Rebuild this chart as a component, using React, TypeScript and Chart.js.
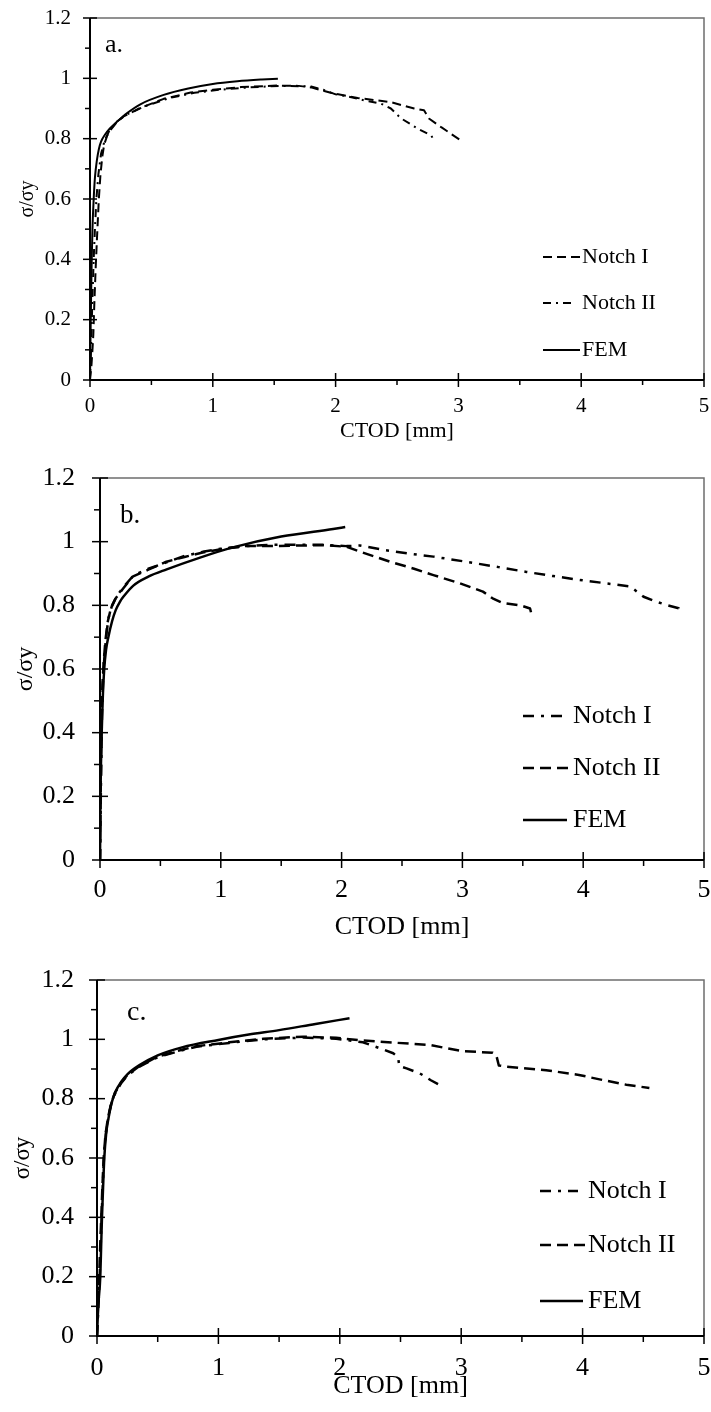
import React, { useEffect, useRef } from 'react';
import { Chart, registerables } from 'chart.js';

Chart.register(...registerables);

const FONT = "'Liberation Serif', 'Times New Roman', Times, serif";

// ---- tick values ----
const X_MAJOR = [0, 1, 2, 3, 4, 5];
const X_MINOR = [0.5, 1.5, 2.5, 3.5, 4.5];
const Y_MAJOR = [0, 0.2, 0.4, 0.6, 0.8, 1.0, 1.2];
const Y_MINOR = [0.1, 0.3, 0.5, 0.7, 0.9, 1.1];

const X_TITLE = 'CTOD [mm]';
const Y_TITLE = 'σ/σy';

// ---- panel a ----
const A_NOTCH_I = [
  [0, 0], [0.012, 0.05], [0.02, 0.1], [0.027, 0.15], [0.035, 0.25], [0.046, 0.37], [0.058, 0.48],
  [0.072, 0.6], [0.085, 0.68], [0.1, 0.74], [0.115, 0.78], [0.14, 0.81], [0.17, 0.83], [0.22, 0.855],
  [0.27, 0.873], [0.4, 0.9], [0.6, 0.932], [0.82, 0.953], [1.0, 0.962], [1.23, 0.971], [1.52, 0.976],
  [1.7, 0.975], [1.8, 0.97], [1.96, 0.952], [2.18, 0.935], [2.45, 0.921], [2.64, 0.9], [2.72, 0.894],
  [2.76, 0.867], [2.86, 0.838], [3.02, 0.794],
];
const A_NOTCH_II = [
  [0, 0.01], [0.005, 0.05], [0.01, 0.12], [0.015, 0.2], [0.022, 0.3], [0.03, 0.4], [0.04, 0.5],
  [0.052, 0.6], [0.068, 0.68], [0.09, 0.75], [0.12, 0.795], [0.16, 0.828], [0.22, 0.857], [0.3, 0.88],
  [0.45, 0.908], [0.65, 0.935], [0.85, 0.952], [1.05, 0.962], [1.3, 0.97], [1.55, 0.975], [1.8, 0.973],
  [1.9, 0.962], [2.0, 0.947], [2.1, 0.94], [2.23, 0.927], [2.37, 0.916], [2.45, 0.9], [2.53, 0.868],
  [2.67, 0.833], [2.78, 0.81], [2.8, 0.794],
];
const A_FEM = [
  [0, 0], [0.003, 0.1], [0.006, 0.2], [0.01, 0.3], [0.014, 0.4], [0.02, 0.5], [0.03, 0.6], [0.04, 0.67],
  [0.056, 0.728], [0.072, 0.765], [0.09, 0.79], [0.12, 0.812], [0.16, 0.833], [0.204, 0.85], [0.3, 0.884],
  [0.41, 0.914], [0.6, 0.945], [0.8, 0.966], [1.0, 0.981], [1.2, 0.99], [1.4, 0.996], [1.53, 0.999],
];

// ---- panel b ----
const B_NOTCH_I = [
  [0, 0], [0.005, 0.15], [0.01, 0.3], [0.016, 0.45], [0.025, 0.56], [0.035, 0.63], [0.05, 0.7],
  [0.07, 0.76], [0.1, 0.8], [0.14, 0.83], [0.2, 0.86], [0.28, 0.895], [0.4, 0.915], [0.55, 0.935],
  [0.7, 0.955], [0.85, 0.968], [1.0, 0.978], [1.2, 0.986], [1.4, 0.99], [1.66, 0.99], [1.85, 0.99],
  [2.04, 0.986], [2.15, 0.988], [2.35, 0.974], [2.55, 0.963], [2.76, 0.953], [3.03, 0.937], [3.3, 0.92],
  [3.53, 0.905], [3.75, 0.892], [3.97, 0.88], [4.19, 0.869], [4.39, 0.859], [4.5, 0.827], [4.6, 0.812],
  [4.69, 0.801], [4.79, 0.791], [4.8, 0.775],
];
const B_NOTCH_II = [
  [0, 0], [0.004, 0.15], [0.008, 0.3], [0.013, 0.45], [0.02, 0.55], [0.03, 0.62], [0.045, 0.69],
  [0.065, 0.75], [0.09, 0.79], [0.13, 0.822], [0.19, 0.852], [0.27, 0.89], [0.4, 0.912], [0.55, 0.937],
  [0.7, 0.952], [0.85, 0.966], [1.0, 0.976], [1.2, 0.986], [1.4, 0.986], [1.66, 0.988], [1.85, 0.989],
  [2.04, 0.984], [2.15, 0.969], [2.4, 0.937], [2.6, 0.915], [2.76, 0.895], [2.98, 0.869], [3.17, 0.843],
  [3.25, 0.822], [3.33, 0.808], [3.48, 0.8], [3.56, 0.79], [3.57, 0.775],
];
const B_FEM = [
  [0, 0], [0.002, 0.1], [0.004, 0.2], [0.008, 0.3], [0.014, 0.4], [0.022, 0.5], [0.035, 0.6],
  [0.05, 0.66], [0.069, 0.7], [0.1, 0.75], [0.13, 0.785], [0.166, 0.812], [0.2, 0.83], [0.276, 0.862],
  [0.4, 0.89], [0.552, 0.913], [0.828, 0.95], [1.1, 0.982], [1.5, 1.016], [1.93, 1.04], [2.03, 1.046],
];

// ---- panel c ----
const C_NOTCH_I = [
  [0, 0], [0.012, 0.1], [0.022, 0.2], [0.03, 0.3], [0.038, 0.4], [0.047, 0.5], [0.057, 0.6],
  [0.072, 0.68], [0.092, 0.735], [0.117, 0.782], [0.15, 0.818], [0.2, 0.853], [0.25, 0.878],
  [0.35, 0.908], [0.5, 0.94], [0.7, 0.963], [0.82, 0.975], [1.09, 0.988], [1.37, 1.0], [1.7, 1.006],
  [1.97, 1.002], [2.19, 0.99], [2.33, 0.97], [2.44, 0.953], [2.48, 0.94], [2.49, 0.91], [2.55, 0.902],
  [2.66, 0.885], [2.75, 0.862], [2.85, 0.84],
];
const C_NOTCH_II = [
  [0, 0], [0.008, 0.1], [0.018, 0.2], [0.026, 0.3], [0.035, 0.4], [0.044, 0.5], [0.055, 0.6],
  [0.07, 0.68], [0.09, 0.735], [0.115, 0.782], [0.148, 0.82], [0.2, 0.855], [0.25, 0.88], [0.35, 0.91],
  [0.5, 0.942], [0.7, 0.965], [0.82, 0.977], [1.09, 0.99], [1.37, 1.002], [1.7, 1.009], [1.97, 1.005],
  [2.19, 0.996], [2.33, 0.992], [2.74, 0.981], [3.01, 0.96], [3.26, 0.955], [3.29, 0.945], [3.31, 0.912],
  [3.37, 0.908], [3.7, 0.896], [3.97, 0.88], [4.14, 0.865], [4.36, 0.847], [4.55, 0.836],
];
const C_FEM = [
  [0, 0], [0.01, 0.1], [0.027, 0.2], [0.034, 0.3], [0.041, 0.4], [0.05, 0.5], [0.06, 0.6], [0.075, 0.68],
  [0.095, 0.735], [0.12, 0.785], [0.15, 0.822], [0.2, 0.857], [0.25, 0.882], [0.35, 0.913], [0.5, 0.946],
  [0.7, 0.973], [1.0, 0.998], [1.25, 1.016], [1.5, 1.031], [1.8, 1.052], [2.08, 1.071],
];

type Style = 'dash' | 'dashdot' | 'solid';
type Series = { label: string; data: number[][]; style: Style };
type LegendRow = { y: number; x2: number; tx: number };
type Panel = {
  tag: string;
  series: Series[];
  top: number;
  height: number;
  plot: { l: number; r: number; t: number; b: number };
  tickSize: number;
  yTickPad: number;
  xTickPad: number;
  xTitleSize: number;
  xTitleCenter: number;
  yTitleSize: number;
  yTitleCenter: number;
  tagSize: number;
  tagX: number;
  tagBase: number;
  legendSize: number;
  legendX1: number;
  legendRows: LegendRow[];
  lineWidth: number;
  dash: number[];
  dashDot: number[];
  majorLen: number;
  minorLen: number;
};

const PANELS: Panel[] = [
  {
    tag: 'a.',
    series: [
      { label: 'Notch I', data: A_NOTCH_I, style: 'dash' },
      { label: 'Notch II', data: A_NOTCH_II, style: 'dashdot' },
      { label: 'FEM', data: A_FEM, style: 'solid' },
    ],
    top: 0, height: 460,
    plot: { l: 90, r: 704, t: 18, b: 380 },
    tickSize: 21, yTickPad: 19, xTickPad: 13.4,
    xTitleSize: 22, xTitleCenter: 431,
    yTitleSize: 20, yTitleCenter: 28,
    tagSize: 26, tagX: 105, tagBase: 52,
    legendSize: 22, legendX1: 543,
    legendRows: [{ y: 257, x2: 580, tx: 582 }, { y: 303, x2: 573, tx: 582 }, { y: 350, x2: 580, tx: 582 }],
    lineWidth: 2, dash: [9, 5], dashDot: [8, 5, 2, 5],
    majorLen: 7, minorLen: 5,
  },
  {
    tag: 'b.',
    series: [
      { label: 'Notch I', data: B_NOTCH_I, style: 'dashdot' },
      { label: 'Notch II', data: B_NOTCH_II, style: 'dash' },
      { label: 'FEM', data: B_FEM, style: 'solid' },
    ],
    top: 460, height: 485,
    plot: { l: 100, r: 704, t: 478, b: 860 },
    tickSize: 26, yTickPad: 25, xTickPad: 14.4,
    xTitleSize: 26, xTitleCenter: 927,
    yTitleSize: 24, yTitleCenter: 26,
    tagSize: 27, tagX: 120, tagBase: 523,
    legendSize: 26, legendX1: 523,
    legendRows: [{ y: 716, x2: 562, tx: 573 }, { y: 768, x2: 568, tx: 573 }, { y: 820, x2: 567, tx: 573 }],
    lineWidth: 2.5, dash: [11, 6], dashDot: [11, 7, 3, 7],
    majorLen: 8, minorLen: 6,
  },
  {
    tag: 'c.',
    series: [
      { label: 'Notch I', data: C_NOTCH_I, style: 'dashdot' },
      { label: 'Notch II', data: C_NOTCH_II, style: 'dash' },
      { label: 'FEM', data: C_FEM, style: 'solid' },
    ],
    top: 945, height: 467,
    plot: { l: 97, r: 704, t: 980, b: 1336 },
    tickSize: 26, yTickPad: 23, xTickPad: 16.9,
    xTitleSize: 26, xTitleCenter: 1386,
    yTitleSize: 23, yTitleCenter: 23,
    tagSize: 28, tagX: 127, tagBase: 1020,
    legendSize: 26, legendX1: 540,
    legendRows: [{ y: 1191, x2: 578, tx: 588 }, { y: 1245, x2: 585, tx: 588 }, { y: 1301, x2: 583, tx: 588 }],
    lineWidth: 2.5, dash: [11, 6], dashDot: [11, 7, 3, 7],
    majorLen: 8, minorLen: 6,
  },
];

function dashFor(p: Panel, s: Style): number[] {
  if (s === 'dash') return p.dash;
  if (s === 'dashdot') return p.dashDot;
  return [];
}

function makeDecor(p: Panel) {
  return {
    id: 'decor' + p.tag,
    afterDraw(chart: any) {
      const { ctx, chartArea: ca, scales } = chart;
      const xs = scales.x;
      const ys = scales.y;
      const seg = (x1: number, y1: number, x2: number, y2: number) => {
        ctx.beginPath();
        ctx.moveTo(x1, y1);
        ctx.lineTo(x2, y2);
        ctx.stroke();
      };
      ctx.save();
      ctx.setLineDash([]);
      // top & right frame
      ctx.strokeStyle = '#6e6e6e';
      ctx.lineWidth = 1.5;
      ctx.beginPath();
      ctx.moveTo(ca.left, ca.top);
      ctx.lineTo(ca.right, ca.top);
      ctx.lineTo(ca.right, ca.bottom);
      ctx.stroke();
      // axes
      ctx.strokeStyle = '#000';
      ctx.lineWidth = 2;
      ctx.beginPath();
      ctx.moveTo(ca.left, ca.top);
      ctx.lineTo(ca.left, ca.bottom);
      ctx.lineTo(ca.right, ca.bottom);
      ctx.stroke();
      // ticks
      ctx.lineWidth = 1.5;
      Y_MAJOR.forEach((v) => {
        const py = ys.getPixelForValue(v);
        seg(ca.left - p.majorLen, py, ca.left + p.majorLen, py);
      });
      Y_MINOR.forEach((v) => {
        const py = ys.getPixelForValue(v);
        seg(ca.left - p.minorLen, py, ca.left, py);
      });
      X_MAJOR.forEach((v) => {
        const px = xs.getPixelForValue(v);
        seg(px, ca.bottom - p.majorLen, px, ca.bottom + p.majorLen);
      });
      X_MINOR.forEach((v) => {
        const px = xs.getPixelForValue(v);
        seg(px, ca.bottom, px, ca.bottom + p.minorLen);
      });
      // panel tag
      ctx.fillStyle = '#000';
      ctx.font = `${p.tagSize}px ${FONT}`;
      ctx.textAlign = 'left';
      ctx.textBaseline = 'alphabetic';
      ctx.fillText(p.tag, p.tagX, p.tagBase - p.top);
      // legend
      ctx.font = `${p.legendSize}px ${FONT}`;
      ctx.textBaseline = 'middle';
      p.series.forEach((s, i) => {
        const row = p.legendRows[i];
        const y = row.y - p.top;
        ctx.lineWidth = p.lineWidth;
        ctx.lineCap = 'butt';
        ctx.setLineDash(dashFor(p, s.style));
        seg(p.legendX1, y, row.x2, y);
        ctx.setLineDash([]);
        ctx.fillText(s.label, row.tx, y);
      });
      ctx.restore();
    },
  };
}

function buildConfig(p: Panel): any {
  const fmt = (v: any) => String(Math.round(Number(v) * 10) / 10);
  const zeroPad = (s: any) => {
    s.paddingLeft = 0;
    s.paddingRight = 0;
    s.paddingTop = 0;
    s.paddingBottom = 0;
  };
  return {
    type: 'line',
    data: {
      datasets: p.series.map((s) => ({
        label: s.label,
        data: s.data,
        borderColor: '#000',
        backgroundColor: '#000',
        borderWidth: p.lineWidth,
        borderDash: dashFor(p, s.style),
        borderCapStyle: 'butt',
        borderJoinStyle: 'round',
        pointRadius: 0,
        pointHoverRadius: 0,
        fill: false,
        tension: 0,
        cubicInterpolationMode: s.style === 'solid' ? 'monotone' : 'default',
      })),
    },
    options: {
      responsive: false,
      maintainAspectRatio: false,
      animation: false,
      events: [],
      devicePixelRatio: 1,
      layout: {
        autoPadding: false,
        padding: { left: 0, top: p.plot.t - p.top, right: 711 - p.plot.r, bottom: 0 },
      },
      plugins: {
        legend: { display: false },
        tooltip: { enabled: false },
        title: { display: false },
      },
      scales: {
        x: {
          type: 'linear',
          position: 'bottom',
          min: 0,
          max: 5,
          ticks: {
            stepSize: 1,
            autoSkip: false,
            maxRotation: 0,
            minRotation: 0,
            padding: p.xTickPad,
            color: '#000',
            font: { family: FONT, size: p.tickSize },
            callback: fmt,
          },
          grid: { display: false, drawTicks: false, tickLength: 0 },
          border: { display: false },
          title: {
            display: true,
            text: X_TITLE,
            color: '#000',
            font: { family: FONT, size: p.xTitleSize },
            padding: { top: 0, bottom: p.top + p.height - p.xTitleCenter - p.xTitleSize * 0.6 },
          },
          afterFit: (s: any) => {
            s.height = p.top + p.height - p.plot.b;
            zeroPad(s);
          },
        },
        y: {
          type: 'linear',
          position: 'left',
          min: 0,
          max: 1.2,
          ticks: {
            stepSize: 0.2,
            autoSkip: false,
            padding: p.yTickPad,
            color: '#000',
            font: { family: FONT, size: p.tickSize },
            callback: fmt,
          },
          grid: { display: false, drawTicks: false, tickLength: 0 },
          border: { display: false },
          title: {
            display: true,
            text: Y_TITLE,
            color: '#000',
            font: { family: FONT, size: p.yTitleSize },
            padding: { top: p.yTitleCenter - p.yTitleSize * 0.6, bottom: 0 },
          },
          afterFit: (s: any) => {
            s.width = p.plot.l;
            zeroPad(s);
          },
        },
      },
    },
    plugins: [makeDecor(p)],
  };
}

function PanelChart({ panel }: { panel: Panel }) {
  const ref = useRef<HTMLCanvasElement | null>(null);
  useEffect(() => {
    if (!ref.current) return;
    const chart = new Chart(ref.current, buildConfig(panel));
    return () => chart.destroy();
  }, [panel]);
  return (
    <canvas
      ref={ref}
      width={711}
      height={panel.height}
      style={{ position: 'absolute', left: 0, top: panel.top, width: 711, height: panel.height, display: 'block' }}
    />
  );
}

export default function App() {
  return (
    <div style={{ position: 'absolute', left: 0, top: 0, width: 711, height: 1412, background: '#fff', overflow: 'hidden' }}>
      {PANELS.map((p) => (
        <PanelChart key={p.tag} panel={p} />
      ))}
    </div>
  );
}
